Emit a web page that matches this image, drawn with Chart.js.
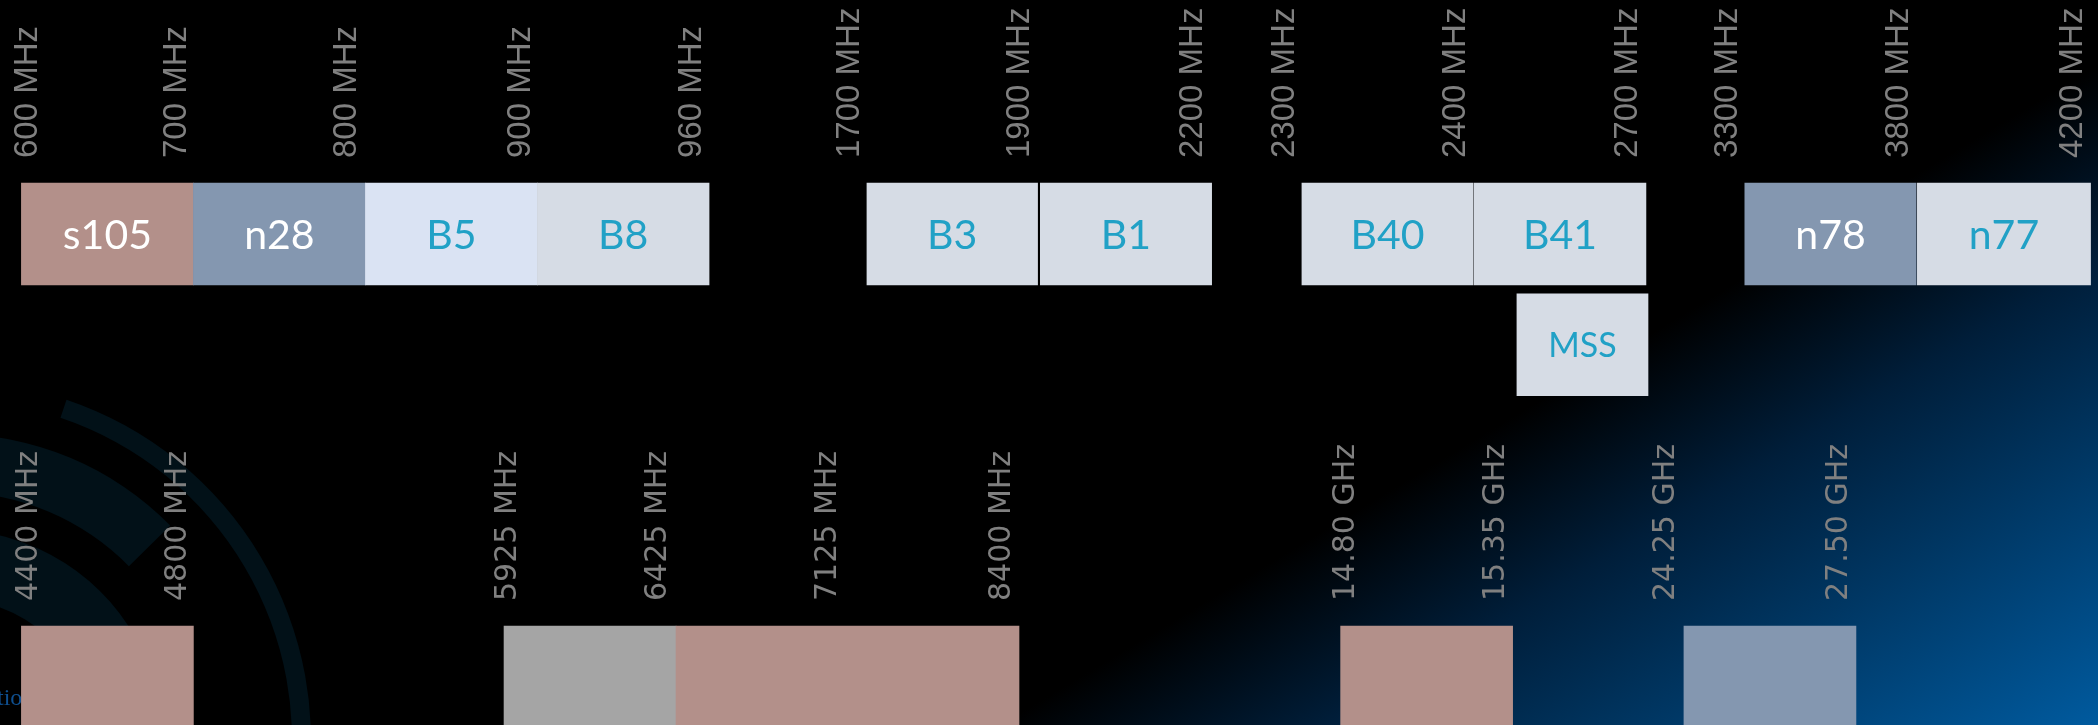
<!DOCTYPE html>
<html>
<head>
<meta charset="utf-8">
<script src="https://cdn.jsdelivr.net/npm/chart.js@4.4.1/dist/chart.umd.min.js"></script>
<style>
html,body{margin:0;padding:0;background:#000;overflow:hidden}
canvas{display:block}
</style>
</head>
<body>
<canvas id="c" width="2098" height="725"></canvas>
<script>
// ---------------- DATA ----------------
// Band boxes: name, start / end (in band-slot units along the diagram), row
const bandNames = ['s105','n28','B5','B8','B3','B1','B40','B41','n78','n77','MSS','','','','',''];
const bandStart = [0, 1, 2, 3, 4.916, 5.924, 7.445, 8.446, 10.02, 11.023, 8.695, 0, 2.806, 3.806, 7.67, 9.666];
const bandEnd   = [1, 2, 3, 3.998, 5.908, 6.92, 8.44, 9.445, 11.016, 12.03, 9.457, 1, 3.806, 5.8, 8.67, 10.666];
const bandRow   = [0, 0, 0, 0, 0, 0, 0, 0, 0, 0, 1, 4, 4, 4, 4, 4];

// Frequency tick labels (upper strip)
const upperFreqLabels = ['600 MHz','700 MHz','800 MHz','900 MHz','960 MHz','1700 MHz','1900 MHz','2200 MHz','2300 MHz','2400 MHz','2700 MHz','3300 MHz','3800 MHz','4200 MHz'];
const upperFreqPos    = [0.038, 0.905, 1.893, 2.905, 3.899, 4.817, 5.805, 6.812, 7.347, 8.34, 9.34, 9.92, 10.916, 11.928];
const upperFreqRow    = 0;

// Frequency tick labels (lower strip)
const lowerFreqLabels = ['4400 MHz','4800 MHz','5925 MHz','6425 MHz','7125 MHz','8400 MHz','14.80 GHz','15.35 GHz','24.25 GHz','27.50 GHz'];
const lowerFreqPos    = [0.047, 0.91, 2.829, 3.701, 4.69, 5.701, 7.701, 8.576, 9.562, 10.57];
const lowerFreqRow    = 4;

// ---------------- STYLES ----------------
const PINK = '#b3908a', SLATE = '#8497b0', ICE = '#dae3f3', MIST = '#d6dce5', GREY = '#a5a5a5';
const CYAN = '#21a1c6', WHITE = '#ffffff';
const bandFill = [PINK, SLATE, ICE, MIST, MIST, MIST, MIST, MIST, SLATE, MIST, MIST, PINK, GREY, PINK, PINK, SLATE];
const bandInk  = [WHITE, WHITE, CYAN, CYAN, CYAN, CYAN, CYAN, CYAN, WHITE, CYAN, CYAN, CYAN, CYAN, CYAN, CYAN, CYAN];
const bandFontPx = [41, 41, 41, 41, 41, 41, 41, 41, 41, 41, 34, 41, 41, 41, 41, 41];
const BAR_THICK = 102;
const LABEL_GAP = 25;

const bandData = bandNames.map((n, i) => ({ y: bandRow[i], x: [bandStart[i], bandEnd[i]] }));

const deg = d => d * Math.PI / 180;
function arcBand(ctx, cx, cy, r0, r1, a0, a1) {
  ctx.beginPath();
  ctx.arc(cx, cy, r1, deg(a0), deg(a1), false);
  ctx.arc(cx, cy, r0, deg(a1), deg(a0), true);
  ctx.closePath();
  ctx.fill();
}

const backdrop = {
  id: 'backdrop',
  beforeDraw(chart) {
    const ctx = chart.ctx, W = chart.width, H = chart.height;
    ctx.save();
    ctx.fillStyle = '#000';
    ctx.fillRect(0, 0, W, H);
    const g = ctx.createLinearGradient(1000, 725, 1291, 1209);
    g.addColorStop(0, 'rgb(0,0,0)');
    g.addColorStop(0.3, 'rgb(0,30,58)');
    g.addColorStop(1, 'rgb(0,90,158)');
    ctx.fillStyle = g;
    ctx.fillRect(0, 0, W, H);
    // faint signal arcs (decoration)
    ctx.fillStyle = 'rgb(2,17,24)';
    arcBand(ctx, -48, 740, 340, 359, -71.4, 10);
    arcBand(ctx, -48, 740, 248, 306, -180, -44.5);
    arcBand(ctx, -48, 740, 141, 210, -180, -25);
    // clipped footer text
    ctx.fillStyle = '#0f4f8f';
    ctx.font = '24px "Liberation Serif"';
    ctx.textAlign = 'left';
    ctx.textBaseline = 'alphabetic';
    ctx.fillText('tion', -3, 705);
    ctx.restore();
  }
};

const bandText = {
  id: 'bandText',
  afterDatasetsDraw(chart) {
    const ctx = chart.ctx;
    const meta = chart.getDatasetMeta(0);
    ctx.save();
    meta.data.forEach((bar, i) => {
      const name = bandNames[i];
      if (!name) return;
      const p = bar.getProps(['x', 'y', 'base'], true);
      const cx = (p.x + p.base) / 2;
      const fs = bandFontPx[i];
      ctx.font = fs + 'px Lato';
      ctx.fillStyle = bandInk[i];
      ctx.textAlign = 'center';
      ctx.textBaseline = 'alphabetic';
      ctx.fillText(name, cx, p.y + fs * 0.358);
    });
    ctx.restore();
  }
};

const freqText = {
  id: 'freqText',
  afterDraw(chart) {
    const ctx = chart.ctx, xs = chart.scales.x, ys = chart.scales.y;
    function drawRow(labels, pos, row, font) {
      const anchorY = ys.getPixelForValue(row) - BAR_THICK / 2 - LABEL_GAP;
      labels.forEach((t, i) => {
        const px = xs.getPixelForValue(pos[i]);
        ctx.save();
        ctx.translate(px, anchorY);
        ctx.rotate(-Math.PI / 2);
        ctx.font = font;
        ctx.fillStyle = '#808080';
        ctx.textAlign = 'left';
        ctx.textBaseline = 'middle';
        ctx.fillText(t, 0, 0);
        ctx.restore();
      });
    }
    drawRow(upperFreqLabels, upperFreqPos, upperFreqRow, '33px "Liberation Sans"');
    drawRow(lowerFreqLabels, lowerFreqPos, lowerFreqRow, '30px "DejaVu Sans"');
  }
};

new Chart(document.getElementById('c'), {
  type: 'bar',
  data: {
    datasets: [{
      data: bandData,
      backgroundColor: bandFill,
      borderWidth: 0,
      borderSkipped: false,
      barThickness: BAR_THICK,
      grouped: false
    }]
  },
  options: {
    indexAxis: 'y',
    responsive: false,
    animation: false,
    devicePixelRatio: 1,
    layout: { padding: 0 },
    scales: {
      x: { type: 'linear', min: -0.12442, max: 12.0733, offset: false, display: false },
      y: { type: 'linear', reverse: true, min: -2.1129, max: 4.4334, offset: false, grace: 0, display: false }
    },
    plugins: { legend: { display: false }, tooltip: { enabled: false } }
  },
  plugins: [backdrop, bandText, freqText]
});
</script>
</body>
</html>
